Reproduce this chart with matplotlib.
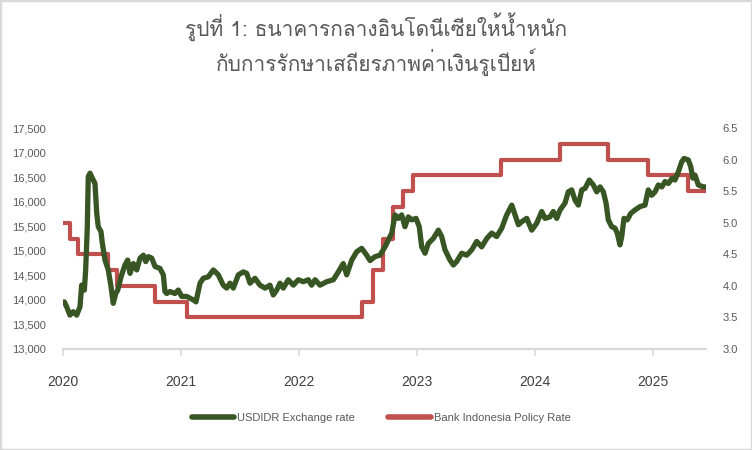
import numpy as np
import matplotlib
matplotlib.use("Agg")
import matplotlib.pyplot as plt
from matplotlib import font_manager, ft2font
from matplotlib.lines import Line2D
from matplotlib.patches import Rectangle

# Title text (Thai)
title_line1 = "รูปที่ 1: ธนาคารกลางอินโดนีเซียให้น้ำหนัก"
title_line2 = "กับการรักษาเสถียรภาพค่าเงินรูเปียห์"

# USDIDR exchange rate (x in decimal years)
fx_year = [
    2020.011, 2020.031, 2020.059, 2020.087, 2020.116, 2020.144, 2020.158, 2020.181,
    2020.192, 2020.206, 2020.214, 2020.229, 2020.248, 2020.271, 2020.286, 2020.299,
    2020.322, 2020.333, 2020.356, 2020.384, 2020.407, 2020.426, 2020.447, 2020.464,
    2020.492, 2020.525, 2020.548, 2020.568, 2020.596, 2020.625, 2020.653, 2020.681,
    2020.701, 2020.723, 2020.752, 2020.780, 2020.822, 2020.850, 2020.864, 2020.879,
    2020.907, 2020.949, 2020.977, 2021.006, 2021.048, 2021.104, 2021.127, 2021.161,
    2021.189, 2021.231, 2021.274, 2021.316, 2021.358, 2021.387, 2021.415, 2021.443,
    2021.486, 2021.528, 2021.557, 2021.585, 2021.627, 2021.669, 2021.712, 2021.754,
    2021.782, 2021.811, 2021.839, 2021.867, 2021.909, 2021.952, 2021.994, 2022.036,
    2022.079, 2022.107, 2022.136, 2022.178, 2022.235, 2022.291, 2022.333, 2022.375,
    2022.404, 2022.447, 2022.489, 2022.531, 2022.574, 2022.602, 2022.644, 2022.686,
    2022.729, 2022.757, 2022.786, 2022.814, 2022.842, 2022.870, 2022.898, 2022.926,
    2022.955, 2022.992, 2023.019, 2023.040, 2023.068, 2023.096, 2023.138, 2023.181,
    2023.209, 2023.237, 2023.280, 2023.308, 2023.336, 2023.379, 2023.421, 2023.464,
    2023.506, 2023.548, 2023.591, 2023.633, 2023.675, 2023.718, 2023.760, 2023.803,
    2023.831, 2023.859, 2023.887, 2023.930, 2023.972, 2024.014, 2024.057, 2024.085,
    2024.127, 2024.155, 2024.184, 2024.212, 2024.254, 2024.282, 2024.311, 2024.339,
    2024.367, 2024.396, 2024.424, 2024.460, 2024.494, 2024.523, 2024.551, 2024.579,
    2024.602, 2024.621, 2024.650, 2024.678, 2024.697, 2024.720, 2024.735, 2024.754,
    2024.782, 2024.811, 2024.847, 2024.890, 2024.932, 2024.960, 2024.989, 2025.017,
    2025.045, 2025.075, 2025.102, 2025.130, 2025.163, 2025.186, 2025.215, 2025.243,
    2025.263, 2025.299, 2025.320, 2025.337, 2025.356, 2025.384, 2025.427, 2025.449,
]
fx_rate = [
    13960, 13860, 13690, 13760, 13690, 13860, 14300, 14200,
    14610, 15490, 16510, 16580, 16480, 16370, 15760, 15490,
    15390, 15160, 14810, 14610, 14270, 13930, 14130, 14200,
    14470, 14710, 14810, 14540, 14740, 14610, 14850, 14910,
    14780, 14880, 14850, 14680, 14640, 14510, 14170, 14130,
    14170, 14130, 14200, 14070, 14070, 14000, 13960, 14340,
    14440, 14470, 14610, 14510, 14300, 14240, 14340, 14240,
    14510, 14570, 14540, 14340, 14440, 14300, 14240, 14300,
    14100, 14200, 14340, 14240, 14410, 14300, 14410, 14370,
    14410, 14300, 14410, 14300, 14370, 14410, 14570, 14740,
    14510, 14810, 14980, 15050, 14910, 14800, 14880, 14910,
    15080, 15220, 15360, 15730, 15660, 15730, 15490, 15690,
    15630, 15660, 15490, 15080, 14950, 15150, 15250, 15420,
    15290, 15020, 14810, 14710, 14780, 14950, 14910, 15020,
    15190, 15080, 15250, 15360, 15290, 15460, 15730, 15930,
    15730, 15530, 15590, 15660, 15420, 15560, 15800, 15660,
    15690, 15800, 15660, 15830, 15970, 16200, 16240, 16030,
    15930, 16240, 16270, 16440, 16340, 16200, 16300, 16200,
    15970, 15630, 15490, 15460, 15360, 15120, 15290, 15660,
    15630, 15760, 15830, 15900, 15930, 16240, 16130, 16200,
    16340, 16300, 16410, 16370, 16480, 16440, 16610, 16810,
    16880, 16850, 16710, 16480, 16540, 16340, 16300, 16300,
]

# Bank Indonesia policy rate (%), steps
rate_year = [
    2020.000, 2020.060, 2020.127, 2020.380, 2020.460, 2020.780, 2021.050,
    2022.530, 2022.630, 2022.710, 2022.800, 2022.880, 2022.970, 2023.710,
    2024.210, 2024.620, 2024.960, 2025.300, 2025.449,
]
rate_value = [
    5.00, 4.75, 4.50, 4.25, 4.00, 3.75, 3.50,
    3.75, 4.25, 4.75, 5.25, 5.50, 5.75, 6.00,
    6.25, 6.00, 5.75, 5.50, 5.50,
]

year_ticks = [2020, 2021, 2022, 2023, 2024, 2025]
left_ticks = np.arange(13000, 17501, 500)
right_ticks = np.arange(3.0, 6.51, 0.5)

# Look for an installed font that has Thai glyphs
thai_font = None
for f in font_manager.fontManager.ttflist:
    try:
        if 0x0E01 in ft2font.FT2Font(f.fname).get_charmap():
            thai_font = f.name
            break
    except Exception:
        pass
title_family = [thai_font, "DejaVu Sans"] if thai_font else ["DejaVu Sans"]
narrow = ["Liberation Sans Narrow", "Liberation Sans", "DejaVu Sans"]

green = "#375623"
red = "#C0504D"
grey_text = "#595959"
axis_grey = "#D9D9D9"

fig = plt.figure(figsize=(7.52, 4.5), dpi=100)
fig.patch.set_facecolor("white")
ax = fig.add_axes([63 / 752, 1 - 349 / 450, 643 / 752, 221 / 450])
ax2 = ax.twinx()

# Exchange rate on the left axis, policy rate on the right
ax.plot(fx_year, fx_rate, color=green, linewidth=3.8, solid_capstyle="round",
        solid_joinstyle="round", zorder=3)
ax2.plot(rate_year, rate_value, color=red, linewidth=3.0, drawstyle="steps-post",
         solid_joinstyle="round", zorder=2)
ax.set_zorder(ax2.get_zorder() + 1)
ax.patch.set_visible(False)

ax.set_xlim(2020, 2025.449)
ax.set_ylim(13000, 17500)
ax2.set_ylim(3.0, 6.5)

ax.set_yticks(left_ticks)
ax.set_yticklabels([f"{v:,}" for v in left_ticks], family=narrow)
ax2.set_yticks(right_ticks)
ax2.set_yticklabels([f"{v:.1f}" for v in right_ticks], family=narrow)
ax.set_xticks(year_ticks)
ax.set_xticklabels([str(y) for y in year_ticks], family=narrow)

for a in (ax, ax2):
    for side in ("top", "left", "right"):
        a.spines[side].set_visible(False)
    a.spines["bottom"].set_color(axis_grey)
    a.spines["bottom"].set_linewidth(1.5)

ax.tick_params(axis="y", length=0, pad=12, labelsize=8, labelcolor=grey_text)
ax2.tick_params(axis="y", length=0, pad=12, labelsize=8, labelcolor=grey_text)
ax.tick_params(axis="x", length=5, width=1.2, color=axis_grey, pad=14,
               labelsize=10, labelcolor="#404040")

# Title
fig.text(0.5, 1 - 27 / 450, title_line1, ha="center", va="center",
         fontsize=15, color=grey_text, family=title_family)
fig.text(0.5, 1 - 62 / 450, title_line2, ha="center", va="center",
         fontsize=15, color=grey_text, family=title_family)

# Legend
handles = [
    Line2D([0], [0], color=green, linewidth=4, solid_capstyle="round"),
    Line2D([0], [0], color=red, linewidth=4, solid_capstyle="round"),
]
fig.legend(handles, ["USDIDR Exchange rate", "Bank Indonesia Policy Rate"],
           loc="center", bbox_to_anchor=(0.507, 1 - 418 / 450), ncol=2,
           frameon=False, fontsize=7.5, labelcolor=grey_text,
           prop={"family": narrow, "size": 8},
           handlelength=3.8, handletextpad=0.3, columnspacing=3)

# Light grey chart border
fig.patches.append(Rectangle((0, 0), 1, 1, transform=fig.transFigure, fill=False,
                             edgecolor=axis_grey, linewidth=2.5))

fig.savefig("out.png", dpi=100, facecolor="white")
